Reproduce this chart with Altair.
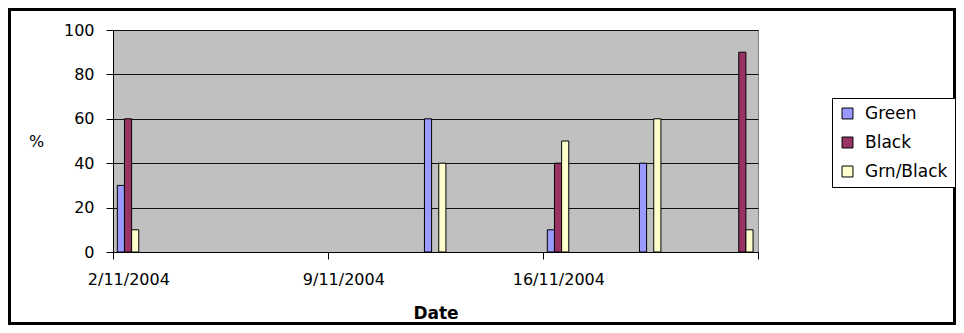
import altair as alt
import pandas as pd

# ---- data ----
dates = ["2004-11-02", "2004-11-12", "2004-11-16", "2004-11-19", "2004-11-22"]
series = ["Green", "Black", "Grn/Black"]
green = [30, 60, 10, 40, 0]
black = [60, 0, 40, 0, 90]
grn_black = [10, 40, 50, 60, 10]
colors = ["#9999FF", "#993366", "#FFFFCC"]
tick_days = [2, 9, 16, 23]

# position of each series' bar inside its day slot (fraction of a day)
slot_start = 0.14
slot_width = 0.233

rows = []
for i, d in enumerate(dates):
    base = pd.Timestamp(d, tz="UTC")
    for k, (name, vals) in enumerate(zip(series, [green, black, grn_black])):
        s = base + pd.Timedelta(days=slot_start + k * slot_width)
        e = s + pd.Timedelta(days=slot_width)
        rows.append({
            "series": name,
            "value": vals[i],
            "start": s.strftime("%Y-%m-%dT%H:%M:%SZ"),
            "end": e.strftime("%Y-%m-%dT%H:%M:%SZ"),
        })
df = pd.DataFrame(rows)

FONT = "DejaVu Sans"
W, H = 645, 222
day_px = W / 21.0

x_scale = alt.Scale(
    type="utc",
    domain=[alt.DateTime(year=2004, month=11, date=2, utc=True),
            alt.DateTime(year=2004, month=11, date=23, utc=True)],
)

bars = alt.Chart(df).transform_filter("datum.value > 0").mark_bar(
    stroke="black", strokeWidth=1, opacity=1
).encode(
    x=alt.X(
        "start:T",
        scale=x_scale,
        axis=alt.Axis(
            title="Date",
            values=[alt.DateTime(year=2004, month=11, date=d, utc=True) for d in tick_days],
            labelExpr="datum.index < 1 ? utcFormat(datum.value, '%-d/%-m/%Y') : ''",
            labelOffset=day_px / 2,
            labelFlush=False,
            labelOverlap=False,
            labelBound=False,
            tickSize=7,
            labelPadding=12,
            grid=False,
            titleFontWeight="bold",
            titleFontSize=17,
            titleY=61,
            titleBaseline="middle",
        ),
    ),
    x2="end:T",
    y=alt.Y(
        "value:Q",
        scale=alt.Scale(domain=[0, 100], nice=False),
        axis=alt.Axis(
            title="%",
            values=[0, 20, 40, 60, 80, 100],
            tickSize=7,
            labelPadding=12,
            titleAngle=0,
            titleX=-77,
            titleY=111,
            titleAlign="center",
            titleBaseline="middle",
            titleFontWeight="normal",
            titleFontSize=16,
            gridColor="#111111",
            gridWidth=1,
            gridOpacity=1,
        ),
    ),
    y2=alt.datum(0),
    color=alt.Color(
        "series:N",
        scale=alt.Scale(domain=series, range=colors),
        sort=series,
        legend=alt.Legend(
            title=None,
            orient="none",
            legendX=719,
            legendY=68,
            symbolType="square",
            symbolSize=120,
            symbolStrokeColor="black",
            symbolStrokeWidth=1,
            symbolOpacity=1,
            labelFontSize=17,
            labelFont=FONT,
            labelColor="black",
            labelOffset=9,
            rowPadding=11,
            padding=7,
            strokeColor="black",
            fillColor="white",
        ),
    ),
)

border = alt.Chart(pd.DataFrame({"a": [0]})).mark_rect(
    fillOpacity=0, stroke="black", strokeWidth=3
).encode(
    x=alt.value(-103.5),
    x2=alt.value(841.5),
    y=alt.value(-20.5),
    y2=alt.value(293.5),
)

chart = alt.layer(bars, border).properties(
    width=W,
    height=H,
    autosize=alt.AutoSizeParams(type="none"),
    padding={"left": 105, "top": 22, "right": 198, "bottom": 73},
    background="white",
).configure_view(
    fill="#C0C0C0", stroke="#808080", strokeWidth=1
).configure_axis(
    labelFont=FONT,
    titleFont=FONT,
    labelFontSize=16,
    labelColor="black",
    titleColor="black",
    domainColor="black",
    tickColor="black",
    domainWidth=1,
    tickWidth=1,
)

chart.save("out.html", embed_options={"renderer": "svg", "actions": False})
